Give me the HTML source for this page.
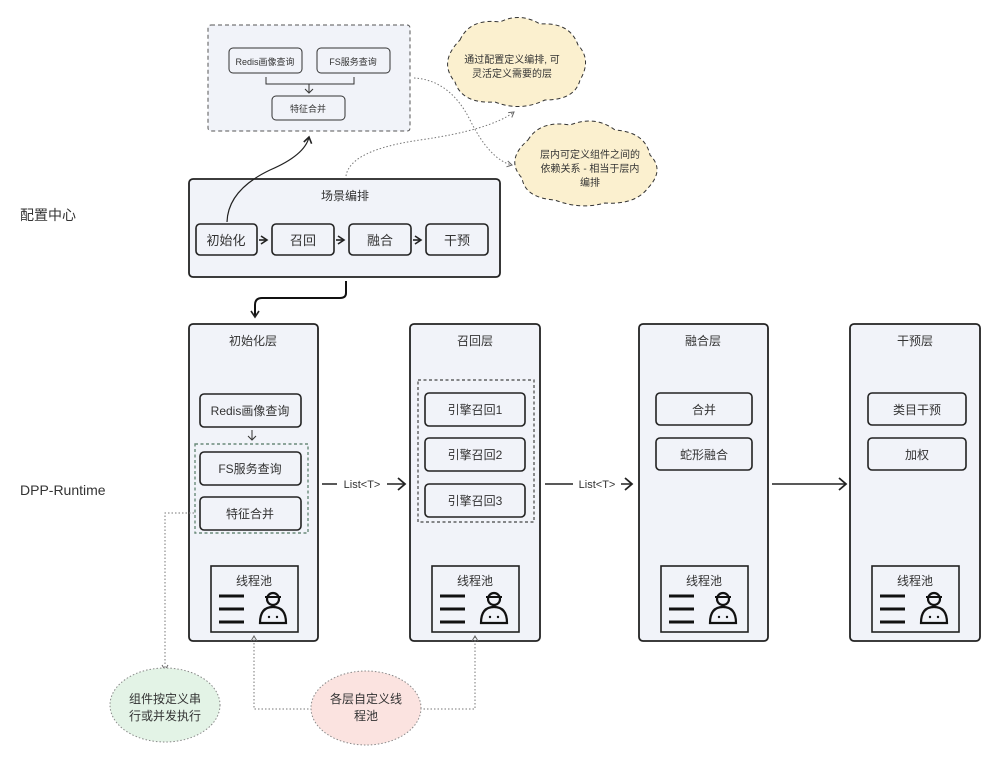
<!DOCTYPE html>
<html><head><meta charset="utf-8"><style>
html,body{margin:0;padding:0;background:#fff}
svg text{font-family:"Liberation Sans","Noto Sans CJK SC",sans-serif;fill:#333}
</style></head><body>
<svg width="1000" height="763" viewBox="0 0 1000 763" xmlns="http://www.w3.org/2000/svg">
<defs>
<marker id="ar" markerWidth="10" markerHeight="10" refX="7" refY="5" orient="auto" markerUnits="userSpaceOnUse"><path d="M1,1 L7,5 L1,9" fill="none" stroke="#222" stroke-width="1.6"/></marker>
<marker id="as" markerWidth="8" markerHeight="8" refX="6" refY="4" orient="auto" markerUnits="userSpaceOnUse"><path d="M1,1 L6,4 L1,7" fill="none" stroke="#666" stroke-width="1"/></marker>
<g id="pool">
<rect x="0" y="0" width="87" height="66" fill="#f1f3f9" stroke="#222" stroke-width="1.6"/>
<text x="43" y="19" font-size="12" text-anchor="middle">线程池</text>
<path d="M8,30 H33 M8,43 H33 M8,56 H33" stroke="#111" stroke-width="3"/>
<circle cx="62" cy="33" r="6" fill="none" stroke="#111" stroke-width="2.2"/>
<path d="M54,31 H70" stroke="#111" stroke-width="2"/>
<path d="M49,57 Q49,41 62,41 Q75,41 75,57 Z" fill="none" stroke="#111" stroke-width="2.2"/>
<circle cx="58" cy="51" r="1.2" fill="#111"/><circle cx="66" cy="51" r="1.2" fill="#111"/>
</g>
</defs>

<text x="20" y="220" font-size="14" fill="#222">配置中心</text>
<text x="20" y="495" font-size="14" fill="#222">DPP-Runtime</text>

<rect x="208" y="25" width="202" height="106" rx="3" fill="#f1f3f9" stroke="#555" stroke-dasharray="4,3"/>
<rect x="229" y="48" width="73" height="25" rx="4" fill="#f1f3f9" stroke="#333"/>
<text x="265" y="65" font-size="9" text-anchor="middle">Redis画像查询</text>
<rect x="317" y="48" width="73" height="25" rx="4" fill="#f1f3f9" stroke="#333"/>
<text x="353" y="65" font-size="9" text-anchor="middle">FS服务查询</text>
<path d="M266,77 V84 H354 V77 M309,84 V92" fill="none" stroke="#333"/>
<path d="M305,89 L309,93 L313,89" fill="none" stroke="#333"/>
<rect x="272" y="96" width="73" height="24" rx="4" fill="#f1f3f9" stroke="#333"/>
<text x="308" y="112" font-size="9" text-anchor="middle">特征合并</text>

<path d="M460,40 Q470,18 500,22 Q520,12 540,24 Q570,22 578,45 Q592,60 580,80 Q575,100 545,100 Q520,112 495,102 Q462,104 455,82 Q438,62 460,40 Z" fill="#fbf0cf" stroke="#333" stroke-dasharray="4,3"/>
<text x="512" y="63" font-size="10" text-anchor="middle">通过配置定义编排, 可</text>
<text x="512" y="77" font-size="10" text-anchor="middle">灵活定义需要的层</text>
<path d="M528,140 Q540,120 570,125 Q595,115 615,130 Q645,132 650,155 Q665,170 648,188 Q635,205 605,203 Q580,210 555,200 Q525,198 522,178 Q505,160 528,140 Z" fill="#fbf0cf" stroke="#333" stroke-dasharray="4,3"/>
<text x="590" y="158" font-size="10" text-anchor="middle">层内可定义组件之间的</text>
<text x="590" y="172" font-size="10" text-anchor="middle">依赖关系 - 相当于层内</text>
<text x="590" y="186" font-size="10" text-anchor="middle">编排</text>

<path d="M346,176 Q350,150 420,140 Q490,130 514,112" fill="none" stroke="#777" stroke-dasharray="1.5,2" marker-end="url(#as)"/>
<path d="M414,78 Q450,80 470,120 Q490,160 512,165" fill="none" stroke="#777" stroke-dasharray="1.5,2" marker-end="url(#as)"/>

<rect x="189" y="179" width="311" height="98" rx="4" fill="#f1f3f9" stroke="#222" stroke-width="1.8"/>
<text x="345" y="200" font-size="12" text-anchor="middle">场景编排</text>
<rect x="196" y="224" width="61" height="31" rx="4" fill="#f1f3f9" stroke="#222" stroke-width="1.6"/>
<text x="226" y="245" font-size="13" text-anchor="middle">初始化</text>
<rect x="272" y="224" width="62" height="31" rx="4" fill="#f1f3f9" stroke="#222" stroke-width="1.6"/>
<text x="303" y="245" font-size="13" text-anchor="middle">召回</text>
<rect x="349" y="224" width="62" height="31" rx="4" fill="#f1f3f9" stroke="#222" stroke-width="1.6"/>
<text x="380" y="245" font-size="13" text-anchor="middle">融合</text>
<rect x="426" y="224" width="62" height="31" rx="4" fill="#f1f3f9" stroke="#222" stroke-width="1.6"/>
<text x="457" y="245" font-size="13" text-anchor="middle">干预</text>
<path d="M259,240 H267" stroke="#222" stroke-width="1.6" marker-end="url(#ar)"/>
<path d="M336,240 H344" stroke="#222" stroke-width="1.6" marker-end="url(#ar)"/>
<path d="M413,240 H421" stroke="#222" stroke-width="1.6" marker-end="url(#ar)"/>
<path d="M227,222 Q228,190 270,170 Q305,155 309,137" fill="none" stroke="#222" stroke-width="1.2" marker-end="url(#ar)"/>

<path d="M346,281 V293 Q346,298 340,298 H262 Q255,298 255,305 V317" fill="none" stroke="#111" stroke-width="2" marker-end="url(#ar)"/>

<rect x="189" y="324" width="129" height="317" rx="4" fill="#f1f3f9" stroke="#222" stroke-width="1.8"/>
<text x="253" y="345" font-size="12" text-anchor="middle">初始化层</text>
<rect x="200" y="394" width="101" height="33" rx="4" fill="#f1f3f9" stroke="#222" stroke-width="1.6"/>
<text x="250" y="415" font-size="12" text-anchor="middle">Redis画像查询</text>
<path d="M252,430 V440 M248,436 L252,440 L256,436" fill="none" stroke="#333" stroke-width="1"/>
<rect x="195" y="444" width="113" height="89" fill="none" stroke="#6a8a7a" stroke-dasharray="3,2.5" stroke-width="1.4"/>
<rect x="200" y="452" width="101" height="33" rx="4" fill="#f1f3f9" stroke="#222" stroke-width="1.6"/>
<text x="250" y="473" font-size="12" text-anchor="middle">FS服务查询</text>
<rect x="200" y="497" width="101" height="33" rx="4" fill="#f1f3f9" stroke="#222" stroke-width="1.6"/>
<text x="250" y="518" font-size="12" text-anchor="middle">特征合并</text>
<use href="#pool" x="211" y="566"/>

<rect x="410" y="324" width="130" height="317" rx="4" fill="#f1f3f9" stroke="#222" stroke-width="1.8"/>
<text x="475" y="345" font-size="12" text-anchor="middle">召回层</text>
<rect x="418" y="380" width="116" height="142" fill="none" stroke="#444" stroke-dasharray="3,2.5" stroke-width="1.2"/>
<rect x="425" y="393" width="100" height="33" rx="4" fill="#f1f3f9" stroke="#222" stroke-width="1.6"/>
<text x="475" y="414" font-size="12" text-anchor="middle">引擎召回1</text>
<rect x="425" y="438" width="100" height="33" rx="4" fill="#f1f3f9" stroke="#222" stroke-width="1.6"/>
<text x="475" y="459" font-size="12" text-anchor="middle">引擎召回2</text>
<rect x="425" y="484" width="100" height="33" rx="4" fill="#f1f3f9" stroke="#222" stroke-width="1.6"/>
<text x="475" y="505" font-size="12" text-anchor="middle">引擎召回3</text>
<use href="#pool" x="432" y="566"/>

<rect x="639" y="324" width="129" height="317" rx="4" fill="#f1f3f9" stroke="#222" stroke-width="1.8"/>
<text x="703" y="345" font-size="12" text-anchor="middle">融合层</text>
<rect x="656" y="393" width="96" height="32" rx="4" fill="#f1f3f9" stroke="#222" stroke-width="1.6"/>
<text x="704" y="414" font-size="12" text-anchor="middle">合并</text>
<rect x="656" y="438" width="96" height="32" rx="4" fill="#f1f3f9" stroke="#222" stroke-width="1.6"/>
<text x="704" y="459" font-size="12" text-anchor="middle">蛇形融合</text>
<use href="#pool" x="661" y="566"/>

<rect x="850" y="324" width="130" height="317" rx="4" fill="#f1f3f9" stroke="#222" stroke-width="1.8"/>
<text x="915" y="345" font-size="12" text-anchor="middle">干预层</text>
<rect x="868" y="393" width="98" height="32" rx="4" fill="#f1f3f9" stroke="#222" stroke-width="1.6"/>
<text x="917" y="414" font-size="12" text-anchor="middle">类目干预</text>
<rect x="868" y="438" width="98" height="32" rx="4" fill="#f1f3f9" stroke="#222" stroke-width="1.6"/>
<text x="917" y="459" font-size="12" text-anchor="middle">加权</text>
<use href="#pool" x="872" y="566"/>

<path d="M322,484 H337 M387,484 H404" stroke="#222" stroke-width="1.6"/>
<path d="M398,478 L405,484 L398,490" fill="none" stroke="#222" stroke-width="1.8"/>
<text x="362" y="488" font-size="11" text-anchor="middle">List&lt;T&gt;</text>
<path d="M545,484 H573 M621,484 H631" stroke="#222" stroke-width="1.6"/>
<path d="M625,478 L632,484 L625,490" fill="none" stroke="#222" stroke-width="1.8"/>
<text x="597" y="488" font-size="11" text-anchor="middle">List&lt;T&gt;</text>
<path d="M772,484 H845" stroke="#222" stroke-width="1.6"/>
<path d="M839,478 L846,484 L839,490" fill="none" stroke="#222" stroke-width="1.8"/>

<path d="M194,513 H165 V670" fill="none" stroke="#777" stroke-dasharray="1.5,2" marker-end="url(#as)"/>
<ellipse cx="165" cy="705" rx="55" ry="37" fill="#e3f3e6" stroke="#888" stroke-dasharray="1.5,2"/>
<text x="165" y="703" font-size="12" text-anchor="middle">组件按定义串</text>
<text x="165" y="720" font-size="12" text-anchor="middle">行或并发执行</text>
<path d="M312,709 H254 V636" fill="none" stroke="#777" stroke-dasharray="1.5,2" marker-end="url(#as)"/>
<path d="M420,709 H475 V636" fill="none" stroke="#777" stroke-dasharray="1.5,2" marker-end="url(#as)"/>
<ellipse cx="366" cy="708" rx="55" ry="37" fill="#fbe3e0" stroke="#888" stroke-dasharray="1.5,2"/>
<text x="366" y="703" font-size="12" text-anchor="middle">各层自定义线</text>
<text x="366" y="720" font-size="12" text-anchor="middle">程池</text>
</svg>
</body></html>
